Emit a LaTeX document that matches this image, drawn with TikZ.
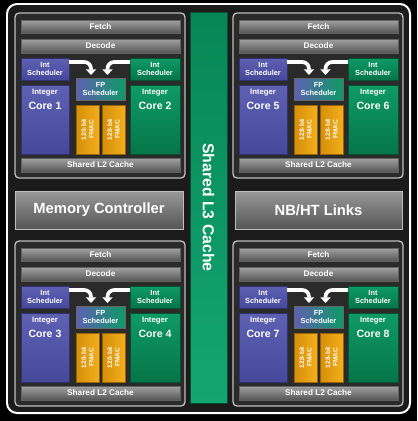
\documentclass[tikz,border=0pt]{standalone}
\usepackage{fontspec}
\setmainfont{Liberation Sans}
\usepackage{xcolor}
\usepackage{tikz}
\definecolor{bdBlue}{HTML}{5E60B2}
\definecolor{bdBlueDk}{HTML}{46489C}
\definecolor{bdGreen}{HTML}{0E9A66}
\definecolor{bdGreenDk}{HTML}{05754A}
\definecolor{bdGold}{HTML}{F2AE1C}
\definecolor{bdGoldDk}{HTML}{D68F0A}
\definecolor{bdGrayLt}{HTML}{A2A2A2}
\definecolor{bdGrayDk}{HTML}{555555}
\definecolor{bdPanel}{HTML}{2A2A2A}
\definecolor{bdBack}{HTML}{1B1B1B}
\definecolor{bdEdge}{HTML}{BEBEBE}
\definecolor{bdL3}{HTML}{12A673}
\definecolor{bdL3Dk}{HTML}{078656}
\usetikzlibrary{arrows.meta}
\def\pu{0.03cm}

\tikzset{
  blk/.style={anchor=north west, inner sep=0pt, outer sep=0pt, text=white,
    align=center, font=\bfseries\fontsize{7}{8}\selectfont},
  modbox/.style={blk, fill=bdPanel, draw=bdEdge, line width=1.1pt, rounded corners=0.12cm},
  graybar/.style={blk, top color=bdGrayLt, bottom color=bdGrayDk, draw=bdGrayLt!60!black, line width=0.4pt},
  bluebox/.style={blk, top color=bdBlue, bottom color=bdBlueDk, draw=bdBlueDk!70!black, line width=0.3pt,
    font=\bfseries\fontsize{6.3}{7.2}\selectfont},
  greenbox/.style={blk, top color=bdGreen, bottom color=bdGreenDk, draw=bdGreenDk!70!black, line width=0.3pt,
    font=\bfseries\fontsize{6.3}{7.2}\selectfont},
  fpbox/.style={blk, left color=bdBlue, right color=bdGreen, draw=black!60, line width=0.3pt,
    font=\bfseries\fontsize{6.3}{7.2}\selectfont},
  fmac/.style={blk, anchor=center, rotate=90, left color=bdGoldDk, right color=bdGold, draw=bdGoldDk!70!black,
    line width=0.3pt, text=white!92!bdGold, font=\bfseries\fontsize{5.6}{6.4}\selectfont},
  coretext/.style={anchor=north, inner sep=0pt, text=white, align=center, yshift=-4*\pu},
  bigbar/.style={blk, top color=bdGrayLt!110, bottom color=bdGrayDk, draw=bdEdge, line width=0.6pt,
    font=\bfseries\fontsize{12.6}{14}\selectfont},
  schedarrow/.style={white, line width=0.11cm, rounded corners=0.2cm,
    -{Triangle[width=0.3cm,length=0.17cm]}}
}

% one module: origin x, origin y, id, left core, right core, FMAC width
\newcommand{\cpumod}[6]{%
  \node[modbox, minimum width={170*\pu}, minimum height={165*\pu}] (mod#3) at (#1,#2) {};
  \node[graybar, minimum width={159*\pu}, minimum height={13*\pu}] (fetch#3) at ({#1+6},{#2+7}) {Fetch};
  \node[graybar, minimum width={159*\pu}, minimum height={14*\pu}] (decode#3) at ({#1+6},{#2+26}) {Decode};
  \node[bluebox, minimum width={48*\pu}, minimum height={22*\pu}] (isl#3) at ({#1+6},{#2+45}) {Int\\Scheduler};
  \node[greenbox, minimum width={50*\pu}, minimum height={22*\pu}] (isr#3) at ({#1+115},{#2+45}) {Int\\Scheduler};
  \node[bluebox, minimum width={48*\pu}, minimum height={69*\pu},
    label={[coretext]north:{{\bfseries\fontsize{6.6}{7.5}\selectfont Integer}\\[1pt]{\bfseries\fontsize{9}{10}\selectfont Core #4}}}]
    (corel#3) at ({#1+6},{#2+72}) {};
  \node[greenbox, minimum width={50*\pu}, minimum height={69*\pu},
    label={[coretext]north:{{\bfseries\fontsize{6.6}{7.5}\selectfont Integer}\\[1pt]{\bfseries\fontsize{9}{10}\selectfont Core #5}}}]
    (corer#3) at ({#1+115},{#2+72}) {};
  \node[fpbox, minimum width={49*\pu}, minimum height={22*\pu}] (fps#3) at ({#1+61},{#2+65}) {FP\\Scheduler};
  \node[fmac, minimum width={49*\pu}, minimum height={23*\pu}] (fmaca#3) at ({#1+72.5},{#2+116.5}) {#6-bit\\FMAC};
  \node[fmac, minimum width={49*\pu}, minimum height={23*\pu}] (fmacb#3) at ({#1+98.5},{#2+116.5}) {#6-bit\\FMAC};
  \node[graybar, minimum width={159*\pu}, minimum height={14*\pu}] (ltwo#3) at ({#1+6},{#2+145}) {Shared L2 Cache};
  \draw[schedarrow] ([yshift={7*\pu}]isl#3.east) -| ([xshift={-9.5*\pu},yshift={3*\pu}]fps#3.north);
  \draw[schedarrow] ([yshift={7*\pu}]isr#3.west) -| ([xshift={7*\pu},yshift={3*\pu}]fps#3.north);
}

\begin{document}
\begin{tikzpicture}[x=0.03cm, y=-0.03cm]
  \fill[black] (0,0) rectangle (417,421);
  \useasboundingbox (0,0) rectangle (417,421);
  \draw[white, line width=1.7pt, fill=bdBack, rounded corners=0.3cm] (7,4) rectangle (410,413);

  % the four modules
  \cpumod{15}{13}{A}{1}{2}{120}
  \cpumod{233}{13}{B}{5}{6}{128}
  \cpumod{15}{241}{C}{3}{4}{120}
  \cpumod{233}{241}{D}{7}{8}{128}

  % shared parts
  \node[blk, anchor=center, rotate=-90, bottom color=bdL3, top color=bdL3Dk, draw=bdL3Dk!60!black,
    line width=0.5pt, minimum width={391*\pu}, minimum height={37*\pu},
    font=\bfseries\fontsize{13.5}{15}\selectfont] (lthree) at (208.5,207.5) {Shared L3 Cache};
  \node[bigbar, minimum width={168*\pu}, minimum height={38*\pu}] (memctl) at (15,191) {Memory Controller};
  \node[bigbar, minimum width={167*\pu}, minimum height={38*\pu}] (nbht) at (235,191) {NB/HT Links};
\end{tikzpicture}
\end{document}
